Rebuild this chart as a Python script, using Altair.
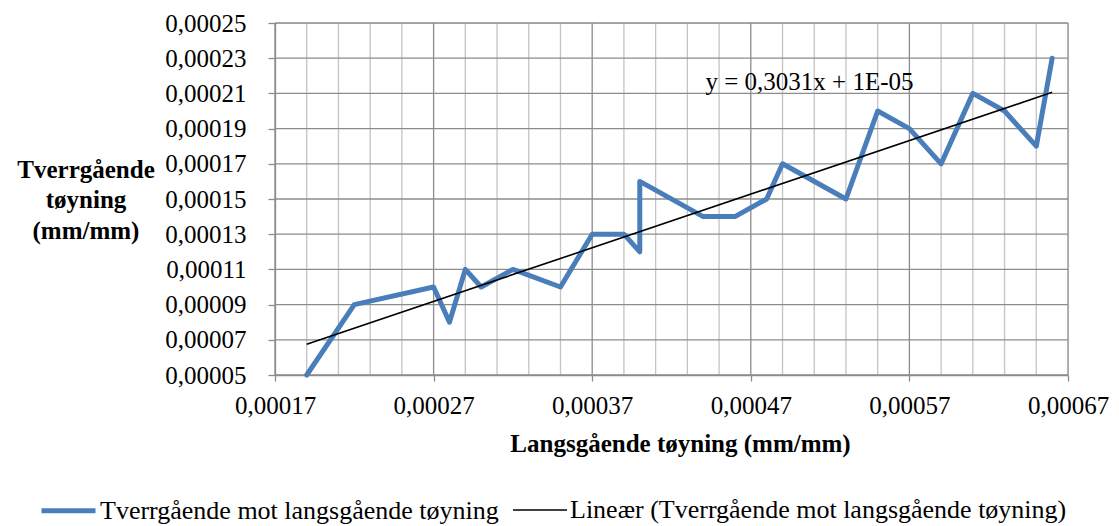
import altair as alt
import pandas as pd

# ---- data ----
lang = [0.00019, 0.00022, 0.00027, 0.00028, 0.00029, 0.00030, 0.00032, 0.00035,
        0.00037, 0.00039, 0.00040, 0.00040, 0.00044, 0.00046, 0.00048, 0.00049,
        0.00053, 0.00055, 0.00057, 0.00059, 0.00061, 0.00063, 0.00065, 0.00066]
tverr = [0.00005, 0.00009, 0.00010, 0.00008, 0.00011, 0.00010, 0.00011, 0.00010,
         0.00013, 0.00013, 0.00012, 0.00016, 0.00014, 0.00014, 0.00015, 0.00017,
         0.00015, 0.00020, 0.00019, 0.00017, 0.00021, 0.00020, 0.00018, 0.00023]

x_major = [0.00017, 0.00027, 0.00037, 0.00047, 0.00057, 0.00067]
x_minor = [0.00019, 0.00021, 0.00023, 0.00025, 0.00029, 0.00031, 0.00033, 0.00035,
           0.00039, 0.00041, 0.00043, 0.00045, 0.00049, 0.00051, 0.00053, 0.00055,
           0.00059, 0.00061, 0.00063, 0.00065]
y_ticks = [0.00005, 0.00007, 0.00009, 0.00011, 0.00013, 0.00015, 0.00017,
           0.00019, 0.00021, 0.00023, 0.00025]

series_names = ["Tverrgående mot langsgående tøyning",
                "Lineær (Tverrgående mot langsgående tøyning)"]
eq_x = [0.000507]
eq_y = [0.000212]
eq_text = ["y = 0,3031x + 1E-05"]

FONT = "Liberation Serif"
BLUE = "#4A7EBB"
GRID_DARK = "#8C8C8C"
GRID_LIGHT = "#C4C4C4"

df = pd.DataFrame({"i": list(range(len(lang))), "x": lang, "y": tverr})
df_minor = pd.DataFrame({"x": x_minor})
df_major = pd.DataFrame({"x": x_major})
df_y = pd.DataFrame({"y": y_ticks})
df_eq = pd.DataFrame({"x": eq_x, "y": eq_y, "t": eq_text})

xscale = alt.Scale(domain=[x_major[0], x_major[-1]], nice=False, zero=False)
yscale = alt.Scale(domain=[y_ticks[0], y_ticks[-1]], nice=False, zero=False)
label_expr = "replace(format(datum.value, '.5f'), '.', ',')"

x_axis = alt.Axis(values=x_major, labelExpr=label_expr, grid=False,
                  domainColor=GRID_DARK, domainWidth=1.3, tickColor=GRID_DARK,
                  tickWidth=1.3, tickSize=6, labelPadding=12,
                  labelFont=FONT, labelFontSize=25, labelColor="#000000",
                  labelFlush=False, labelOverlap=False,
                  title="Langsgående tøyning (mm/mm)", titleFont=FONT,
                  titleFontSize=25, titleFontWeight="bold", titleColor="#000000",
                  titleX=405, titleY=76, titleAnchor="start", titleAlign="center",
                  titleBaseline="alphabetic")
y_axis = alt.Axis(values=y_ticks, labelExpr=label_expr, grid=False,
                  domainColor=GRID_DARK, domainWidth=1.3, tickColor=GRID_DARK,
                  tickWidth=1.3, tickSize=7, labelPadding=22,
                  labelFont=FONT, labelFontSize=25, labelColor="#000000",
                  labelFlush=False, labelOverlap=False,
                  title=["Tverrgående", "tøyning", "(mm/mm)"], titleFont=FONT,
                  titleFontSize=25, titleFontWeight="bold", titleColor="#000000",
                  titleAngle=0, titleX=-189.5, titleY=146, titleAlign="center",
                  titleBaseline="middle", titleLineHeight=30.5)

minor_rules = alt.Chart(df_minor).mark_rule(color=GRID_LIGHT, strokeWidth=1.3).encode(
    x=alt.X("x:Q", scale=xscale, axis=x_axis))
hgrid = alt.Chart(df_y).mark_rule(color=GRID_DARK, strokeWidth=1.3).encode(
    y=alt.Y("y:Q", scale=yscale, axis=y_axis))
major_rules = alt.Chart(df_major).mark_rule(color=GRID_DARK, strokeWidth=1.3).encode(
    x=alt.X("x:Q", scale=xscale, axis=x_axis))

color_scale = alt.Scale(domain=series_names, range=[BLUE, "#000000"])
width_scale = alt.Scale(domain=series_names, range=[5, 1.6])
legend = alt.Legend(title=None, orient="none", direction="horizontal",
                    legendX=-236, legendY=458, symbolType="stroke",
                    symbolSize=2916, symbolLimit=0, labelFont=FONT, labelFontSize=26,
                    labelColor="#000000", labelOffset=2, columnPadding=10,
                    labelLimit=0, rowPadding=0, padding=0)

data_line = alt.Chart(df).mark_line(strokeJoin="round", strokeCap="round").transform_calculate(
    series=f"'{series_names[0]}'"
).encode(
    x=alt.X("x:Q", scale=xscale, axis=x_axis),
    y=alt.Y("y:Q", scale=yscale, axis=y_axis),
    order="i:Q",
    color=alt.Color("series:N", scale=color_scale, legend=legend),
    strokeWidth=alt.StrokeWidth("series:N", scale=width_scale, legend=legend),
)

trend = alt.Chart(df).transform_regression("x", "y").transform_calculate(
    series=f"'{series_names[1]}'"
).mark_line().encode(
    x=alt.X("x:Q", scale=xscale, axis=x_axis),
    y=alt.Y("y:Q", scale=yscale, axis=y_axis),
    color=alt.Color("series:N", scale=color_scale, legend=legend),
    strokeWidth=alt.StrokeWidth("series:N", scale=width_scale, legend=legend),
)

eq = alt.Chart(df_eq).mark_text(font=FONT, fontSize=25, color="#000000",
                                align="center", baseline="alphabetic").encode(
    x=alt.X("x:Q", scale=xscale, axis=x_axis),
    y=alt.Y("y:Q", scale=yscale, axis=y_axis),
    text="t:N")

chart = alt.layer(minor_rules, hgrid, major_rules, data_line, trend, eq).properties(
    width=793, height=352,
    autosize=alt.AutoSizeParams(type="none"),
    padding={"left": 267, "top": 15, "right": 43, "bottom": 151},
).configure_view(stroke=None).configure(background="#FFFFFF")

chart.save("out.html", embed_options={"renderer": "svg", "actions": False})
